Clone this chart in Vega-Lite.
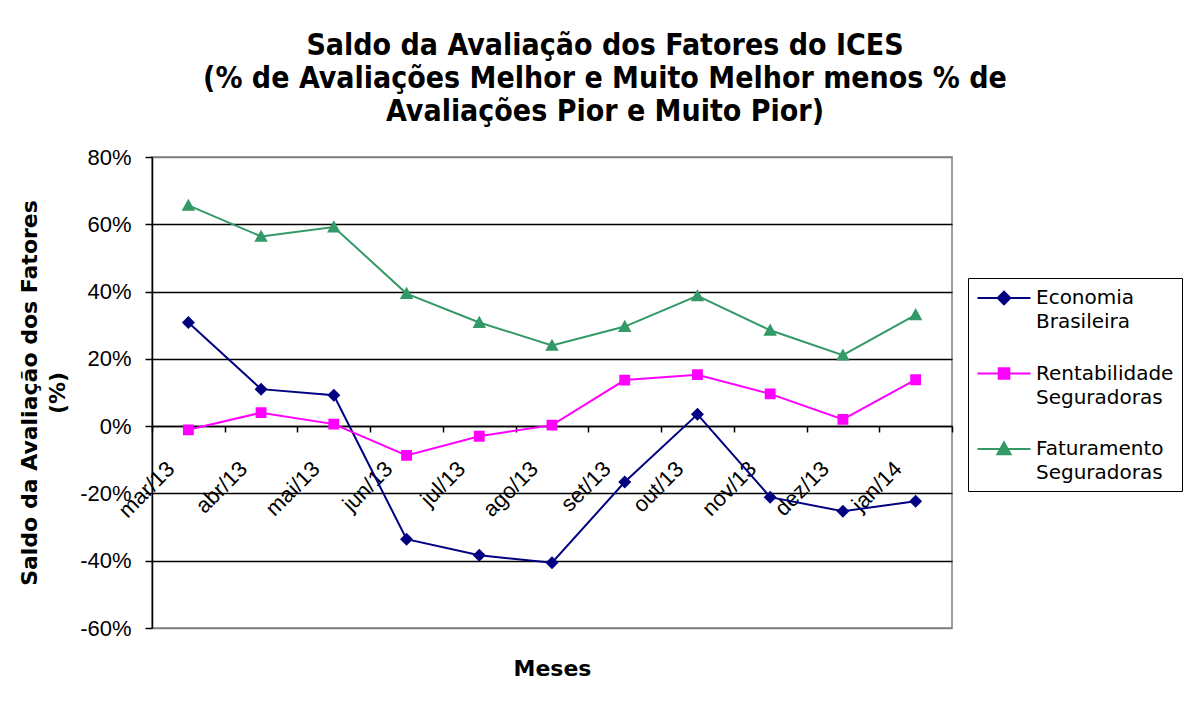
{
  "$schema": "https://vega.github.io/schema/vega-lite/v6.json",
  "autosize": "none",
  "width": 800,
  "height": 471,
  "padding": {"left": 152, "top": 157, "right": 237, "bottom": 81},
  "background": "white",
  "title": {
    "text": ["Saldo da Avaliação dos Fatores do ICES", "(% de Avaliações Melhor e Muito Melhor menos % de", "Avaliações Pior e Muito Pior)"],
    "font": "DejaVu Sans Condensed, Liberation Sans Narrow, DejaVu Sans",
    "fontSize": 30,
    "fontWeight": "bold",
    "lineHeight": 33,
    "color": "black",
    "anchor": "middle",
    "frame": "group",
    "dx": 53,
    "offset": 19
  },
  "data": {
    "values": [
      {"mes": "mar/13", "serie": "Economia Brasileira", "valor": 0.308},
      {"mes": "abr/13", "serie": "Economia Brasileira", "valor": 0.110},
      {"mes": "mai/13", "serie": "Economia Brasileira", "valor": 0.092},
      {"mes": "jun/13", "serie": "Economia Brasileira", "valor": -0.336},
      {"mes": "jul/13", "serie": "Economia Brasileira", "valor": -0.384},
      {"mes": "ago/13", "serie": "Economia Brasileira", "valor": -0.406},
      {"mes": "set/13", "serie": "Economia Brasileira", "valor": -0.166},
      {"mes": "out/13", "serie": "Economia Brasileira", "valor": 0.035},
      {"mes": "nov/13", "serie": "Economia Brasileira", "valor": -0.211},
      {"mes": "dez/13", "serie": "Economia Brasileira", "valor": -0.253},
      {"mes": "jan/14", "serie": "Economia Brasileira", "valor": -0.223},
      {"mes": "mar/13", "serie": "Rentabilidade Seguradoras", "valor": -0.011},
      {"mes": "abr/13", "serie": "Rentabilidade Seguradoras", "valor": 0.040},
      {"mes": "mai/13", "serie": "Rentabilidade Seguradoras", "valor": 0.006},
      {"mes": "jun/13", "serie": "Rentabilidade Seguradoras", "valor": -0.087},
      {"mes": "jul/13", "serie": "Rentabilidade Seguradoras", "valor": -0.030},
      {"mes": "ago/13", "serie": "Rentabilidade Seguradoras", "valor": 0.003},
      {"mes": "set/13", "serie": "Rentabilidade Seguradoras", "valor": 0.137},
      {"mes": "out/13", "serie": "Rentabilidade Seguradoras", "valor": 0.153},
      {"mes": "nov/13", "serie": "Rentabilidade Seguradoras", "valor": 0.096},
      {"mes": "dez/13", "serie": "Rentabilidade Seguradoras", "valor": 0.020},
      {"mes": "jan/14", "serie": "Rentabilidade Seguradoras", "valor": 0.138},
      {"mes": "mar/13", "serie": "Faturamento Seguradoras", "valor": 0.656},
      {"mes": "abr/13", "serie": "Faturamento Seguradoras", "valor": 0.564},
      {"mes": "mai/13", "serie": "Faturamento Seguradoras", "valor": 0.592},
      {"mes": "jun/13", "serie": "Faturamento Seguradoras", "valor": 0.394},
      {"mes": "jul/13", "serie": "Faturamento Seguradoras", "valor": 0.308},
      {"mes": "ago/13", "serie": "Faturamento Seguradoras", "valor": 0.240},
      {"mes": "set/13", "serie": "Faturamento Seguradoras", "valor": 0.296},
      {"mes": "out/13", "serie": "Faturamento Seguradoras", "valor": 0.387},
      {"mes": "nov/13", "serie": "Faturamento Seguradoras", "valor": 0.285},
      {"mes": "dez/13", "serie": "Faturamento Seguradoras", "valor": 0.211},
      {"mes": "jan/14", "serie": "Faturamento Seguradoras", "valor": 0.331}
    ]
  },
  "encoding": {
    "x": {
      "field": "mes",
      "type": "nominal",
      "sort": null,
      "scale": {"paddingInner": 0, "paddingOuter": 0},
      "axis": {
        "title": "Meses",
        "titleFont": "DejaVu Sans",
        "titleFontSize": 22,
        "titleFontWeight": "bold",
        "titleColor": "black",
        "titlePadding": 0,
        "titleY": 232,
        "offset": -202,
        "domainColor": "black",
        "domainWidth": 1.5,
        "tickColor": "black",
        "tickWidth": 1.5,
        "tickSize": 6,
        "tickBand": "extent",
        "labelAngle": -45,
        "labelAlign": "right",
        "labelBaseline": "middle",
        "labelOffset": -18,
        "labelPadding": 33,
        "labelFont": "Liberation Sans",
        "labelFontSize": 22,
        "labelColor": "black",
        "grid": false
      }
    },
    "y": {
      "field": "valor",
      "type": "quantitative",
      "scale": {"domain": [-0.6, 0.8], "nice": false, "zero": false},
      "axis": {
        "values": [-0.6, -0.4, -0.2, 0, 0.2, 0.4, 0.6, 0.8],
        "labelExpr": "round(datum.value * 100) + '%'",
        "title": ["Saldo da Avaliação dos Fatores", "(%)"],
        "titleFont": "DejaVu Sans",
        "titleFontSize": 22,
        "titleFontWeight": "bold",
        "titleColor": "black",
        "titleLineHeight": 28,
        "titlePadding": 10,
        "labelFont": "Liberation Sans",
        "labelFontSize": 22,
        "labelColor": "black",
        "labelPadding": 14,
        "domainColor": "black",
        "domainWidth": 1.5,
        "tickColor": "black",
        "tickWidth": 1.5,
        "tickSize": 7,
        "grid": true,
        "gridColor": {"condition": {"test": "datum.value >= 0.79 || datum.value <= -0.59", "value": "#808080"}, "value": "black"},
        "gridWidth": 1.5
      }
    },
    "color": {
      "field": "serie",
      "type": "nominal",
      "title": null,
      "scale": {"domain": ["Economia Brasileira", "Rentabilidade Seguradoras", "Faturamento Seguradoras"], "range": ["#000080", "#FF00FF", "#339966"]},
      "legend": {
        "orient": "none",
        "legendX": 816,
        "legendY": 121,
        "padding": 8,
        "strokeColor": "black",
        "fillColor": "white",
        "symbolSize": 450,
        "symbolOffset": 16,
        "symbolStrokeWidth": 2,
        "labelOffset": 20,
        "rowPadding": 29.5,
        "labelFont": "DejaVu Sans",
        "labelFontSize": 20,
        "labelColor": "black",
        "labelLimit": 0,
        "labelExpr": "split(datum.label, ' ')",
        "encode": {
          "symbols": {"update": {"stroke": {"scale": "color", "field": "value"}, "strokeWidth": {"value": 2}}},
          "labels": {"update": {"lineHeight": {"value": 24}}}
        }
      }
    }
  },
  "layer": [
    {
      "mark": {"type": "line", "strokeWidth": 2}
    },
    {
      "mark": {"type": "point", "filled": true, "opacity": 1, "size": 470, "strokeWidth": 0},
      "encoding": {
        "shape": {
          "field": "serie",
          "type": "nominal",
          "title": null,
          "scale": {"domain": ["Economia Brasileira", "Rentabilidade Seguradoras", "Faturamento Seguradoras"], "range": ["M-2.5,0L2.5,0M0,-0.6L0.6,0L0,0.6L-0.6,0Z", "M-2.5,0L2.5,0M-0.5,-0.5L0.5,-0.5L0.5,0.5L-0.5,0.5Z", "M-2.5,0L2.5,0M0,-0.62L0.62,0.5L-0.62,0.5Z"]}
        }
      }
    }
  ],
  "config": {
    "view": {"stroke": "#808080", "strokeWidth": 1.5}
  }
}
